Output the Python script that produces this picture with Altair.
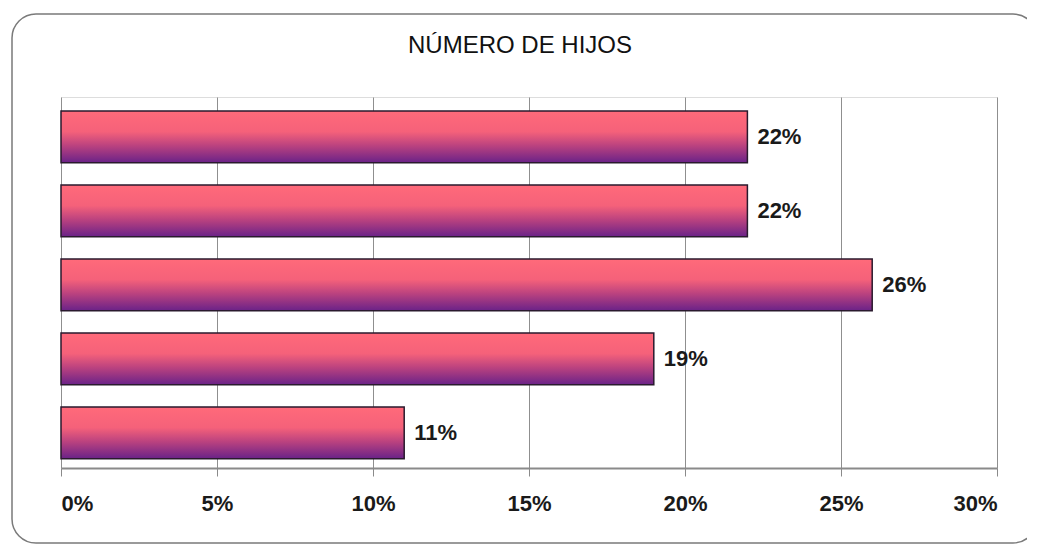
import altair as alt
import pandas as pd

# Data (top to bottom as shown)
categories = ["Grupo 1", "Grupo 2", "Grupo 3", "Grupo 4", "Grupo 5"]
values = [0.22, 0.22, 0.26, 0.19, 0.11]
labels = ["22%", "22%", "26%", "19%", "11%"]
x_ticks = [0, 0.05, 0.10, 0.15, 0.20, 0.25, 0.30]
title_text = "NÚMERO DE HIJOS"

df = pd.DataFrame({"cat": categories, "val": values, "label": labels})
frame_df = pd.DataFrame({"k": [0]})

gradient = alt.Gradient(
    gradient="linear", x1=0, y1=0, x2=0, y2=1,
    stops=[
        alt.GradientStop(color="#ff6a7a", offset=0),
        alt.GradientStop(color="#f5617a", offset=0.4),
        alt.GradientStop(color="#bd437f", offset=0.66),
        alt.GradientStop(color="#6a2288", offset=1),
    ],
)

x_enc = alt.X(
    "val:Q",
    scale=alt.Scale(domain=[0, 0.30], nice=False),
    axis=alt.Axis(
        values=x_ticks, format=".0%", title=None, grid=True,
        gridColor="#8f8f8f", gridWidth=1, domainColor="#8a8a8a", domainWidth=2,
        tickColor="#8a8a8a", tickSize=8, labelFontSize=22, labelFont="Liberation Sans",
        labelFontWeight="bold", labelColor="#1a1a1a", labelPadding=17,
    ),
)
y_enc = alt.Y(
    "cat:N", sort=None, axis=None,
    scale=alt.Scale(paddingInner=0.30, paddingOuter=0.157, align=0.6),
)

frame = alt.Chart(frame_df).mark_rect(
    fill=None, stroke="#7a7a7a", strokeWidth=1.5, cornerRadius=24
).encode(
    x=alt.value(-49), x2=alt.value(976), y=alt.value(-83), y2=alt.value(446)
)

bars = alt.Chart(df).mark_bar(
    color=gradient, stroke="#2a1a2e", strokeWidth=1.5
).encode(x=x_enc, y=y_enc)

text = alt.Chart(df).mark_text(
    align="left", baseline="middle", dx=10, fontSize=22, fontWeight="bold",
    font="Liberation Sans", color="#1a1a1a"
).encode(x="val:Q", y=alt.Y("cat:N", sort=None), text="label:N")

chart = alt.layer(frame, bars, text).properties(
    width=936, height=371,
    title=alt.TitleParams(
        title_text, fontSize=24, fontWeight="normal", font="Liberation Sans",
        color="#111111", offset=-45, dx=-9, anchor="middle",
    ),
    autosize=alt.AutoSizeParams(type="none"),
    padding={"left": 53, "top": 89, "right": 30, "bottom": 76},
).configure_view(
    stroke="#8a8aa8", strokeWidth=1.5
).configure(background="white")

chart.save("out.html", embed_options={"renderer": "svg", "actions": False})
